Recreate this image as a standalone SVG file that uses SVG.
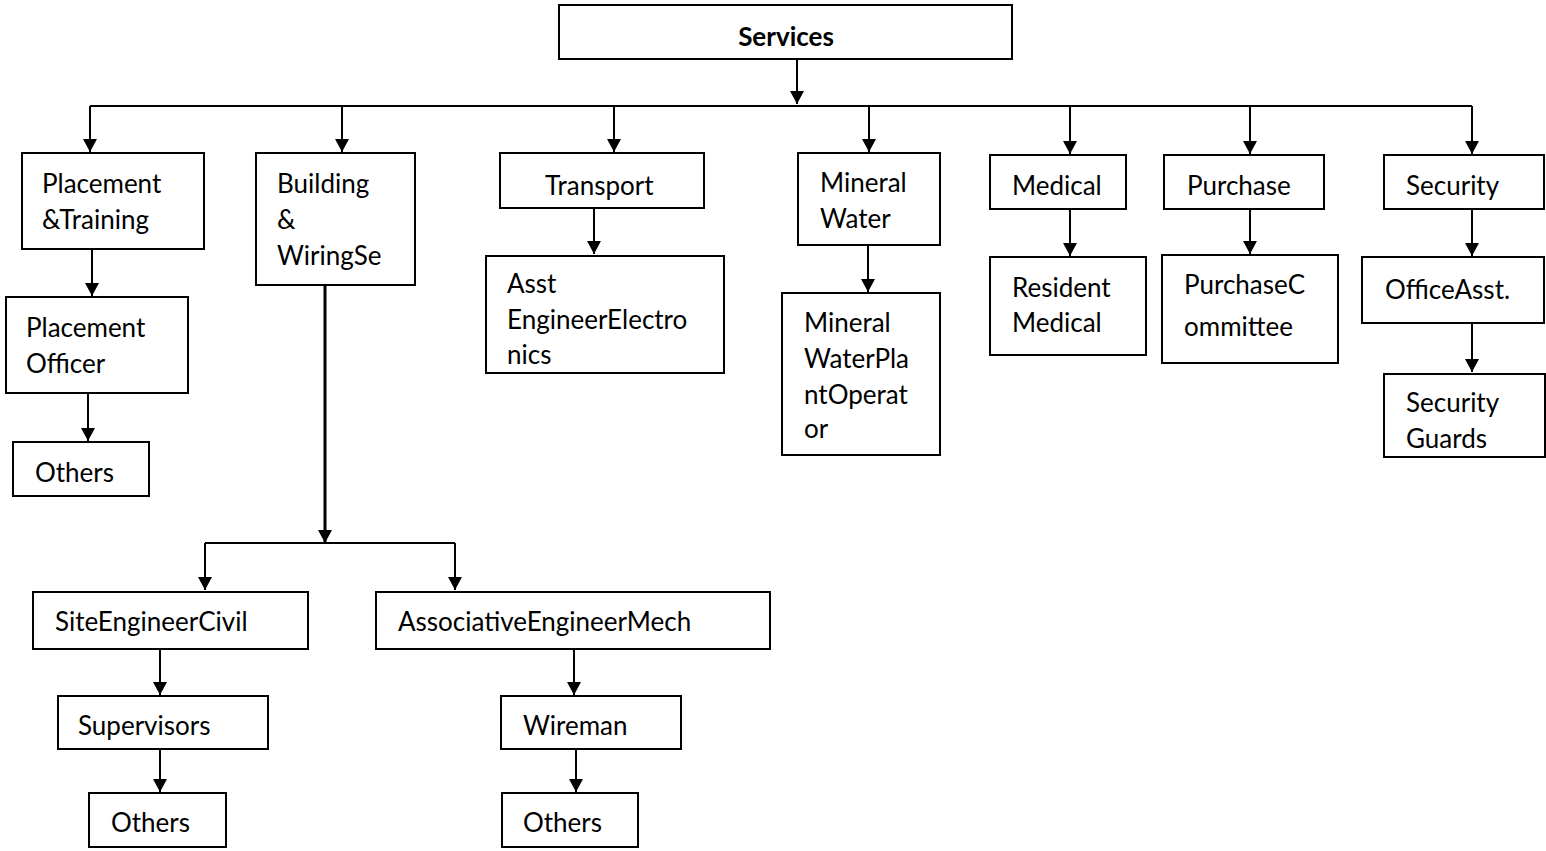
<svg xmlns="http://www.w3.org/2000/svg" width="1546" height="851" viewBox="0 0 1546 851">
<defs>
<style>
.box{fill:#fff;stroke:#000;stroke-width:2}
.t{font-family:Lato,"Liberation Sans",sans-serif;font-size:26px;fill:#000}
.b{font-weight:bold}
.c{fill:none;stroke:#000;stroke-width:2}
.thick{stroke-width:3}
</style>
<marker id="ah" markerUnits="userSpaceOnUse" markerWidth="14" markerHeight="14" refX="13" refY="7" orient="auto">
<path d="M0,0 L13,7 L0,14 z" fill="#000"/>
</marker>
</defs>
<rect width="1546" height="851" fill="#fff"/>
<g id="connectors">
<path class="c" d="M797,60 V104" marker-end="url(#ah)"/>
<path class="c" d="M90,106 H1472"/>
<path class="c" d="M90,106 V152" marker-end="url(#ah)"/>
<path class="c" d="M342,106 V152" marker-end="url(#ah)"/>
<path class="c" d="M614,106 V152" marker-end="url(#ah)"/>
<path class="c" d="M869,106 V152" marker-end="url(#ah)"/>
<path class="c" d="M1070,106 V154" marker-end="url(#ah)"/>
<path class="c" d="M1250,106 V154" marker-end="url(#ah)"/>
<path class="c" d="M1472,106 V154" marker-end="url(#ah)"/>
<path class="c" d="M92,249 V296" marker-end="url(#ah)"/>
<path class="c" d="M88,393 V441" marker-end="url(#ah)"/>
<path class="c thick" d="M325,285 V543" marker-end="url(#ah)"/>
<path class="c" d="M205,543 H455"/>
<path class="c" d="M205,543 V590" marker-end="url(#ah)"/>
<path class="c" d="M455,543 V590" marker-end="url(#ah)"/>
<path class="c" d="M160,649 V695" marker-end="url(#ah)"/>
<path class="c" d="M160,749 V792" marker-end="url(#ah)"/>
<path class="c" d="M574,649 V695" marker-end="url(#ah)"/>
<path class="c" d="M576,749 V792" marker-end="url(#ah)"/>
<path class="c" d="M594,208 V254" marker-end="url(#ah)"/>
<path class="c" d="M868,245 V292" marker-end="url(#ah)"/>
<path class="c" d="M1070,209 V256" marker-end="url(#ah)"/>
<path class="c" d="M1250,209 V254" marker-end="url(#ah)"/>
<path class="c" d="M1472,209 V256" marker-end="url(#ah)"/>
<path class="c" d="M1472,323 V372" marker-end="url(#ah)"/>
</g>
<g id="services"><rect class="box" x="559" y="5" width="453" height="54"/><text class="t b" x="786" y="46" text-anchor="middle">Services</text></g>
<g id="placement-training"><rect class="box" x="22" y="153" width="182" height="96"/><text class="t" x="42" y="193">Placement</text><text class="t" x="42" y="229">&amp;Training</text></g>
<g id="building-wiring"><rect class="box" x="256" y="153" width="159" height="132"/><text class="t" x="277" y="193">Building</text><text class="t" x="277" y="229">&amp;</text><text class="t" x="277" y="265">WiringSe</text></g>
<g id="placement-officer"><rect class="box" x="6" y="297" width="182" height="96"/><text class="t" x="26" y="337">Placement</text><text class="t" x="26" y="373">Officer</text></g>
<g id="others-1"><rect class="box" x="13" y="442" width="136" height="54"/><text class="t" x="35" y="482">Others</text></g>
<g id="transport"><rect class="box" x="500" y="153" width="204" height="55"/><text class="t" x="545" y="195">Transport</text></g>
<g id="asst-engineer"><rect class="box" x="486" y="256" width="238" height="117"/><text class="t" x="507" y="293">Asst</text><text class="t" x="507" y="329">EngineerElectro</text><text class="t" x="507" y="364">nics</text></g>
<g id="mineral-water"><rect class="box" x="798" y="153" width="142" height="92"/><text class="t" x="820" y="192">Mineral</text><text class="t" x="820" y="228">Water</text></g>
<g id="mineral-operator"><rect class="box" x="782" y="293" width="158" height="162"/><text class="t" x="804" y="332">Mineral</text><text class="t" x="804" y="368">WaterPla</text><text class="t" x="804" y="404">ntOperat</text><text class="t" x="804" y="438">or</text></g>
<g id="medical"><rect class="box" x="990" y="155" width="136" height="54"/><text class="t" x="1012" y="195">Medical</text></g>
<g id="resident-medical"><rect class="box" x="990" y="257" width="156" height="98"/><text class="t" x="1012" y="297">Resident</text><text class="t" x="1012" y="332">Medical</text></g>
<g id="purchase"><rect class="box" x="1164" y="155" width="160" height="54"/><text class="t" x="1187" y="195">Purchase</text></g>
<g id="purchase-committee"><rect class="box" x="1162" y="255" width="176" height="108"/><text class="t" x="1184" y="294">PurchaseC</text><text class="t" x="1184" y="336">ommittee</text></g>
<g id="security"><rect class="box" x="1384" y="155" width="160" height="54"/><text class="t" x="1406" y="195">Security</text></g>
<g id="office-asst"><rect class="box" x="1362" y="257" width="182" height="66"/><text class="t" x="1385" y="299">OfficeAsst.</text></g>
<g id="security-guards"><rect class="box" x="1384" y="374" width="161" height="83"/><text class="t" x="1406" y="412">Security</text><text class="t" x="1406" y="448">Guards</text></g>
<g id="site-engineer"><rect class="box" x="33" y="592" width="275" height="57"/><text class="t" x="55" y="631">SiteEngineerCivil</text></g>
<g id="supervisors"><rect class="box" x="58" y="696" width="210" height="53"/><text class="t" x="78" y="735">Supervisors</text></g>
<g id="others-2"><rect class="box" x="89" y="793" width="137" height="54"/><text class="t" x="111" y="832">Others</text></g>
<g id="associative-engineer"><rect class="box" x="376" y="592" width="394" height="57"/><text class="t" x="398" y="631">AssociativeEngineerMech</text></g>
<g id="wireman"><rect class="box" x="501" y="696" width="180" height="53"/><text class="t" x="523" y="735">Wireman</text></g>
<g id="others-3"><rect class="box" x="502" y="793" width="136" height="54"/><text class="t" x="523" y="832">Others</text></g>
</svg>
